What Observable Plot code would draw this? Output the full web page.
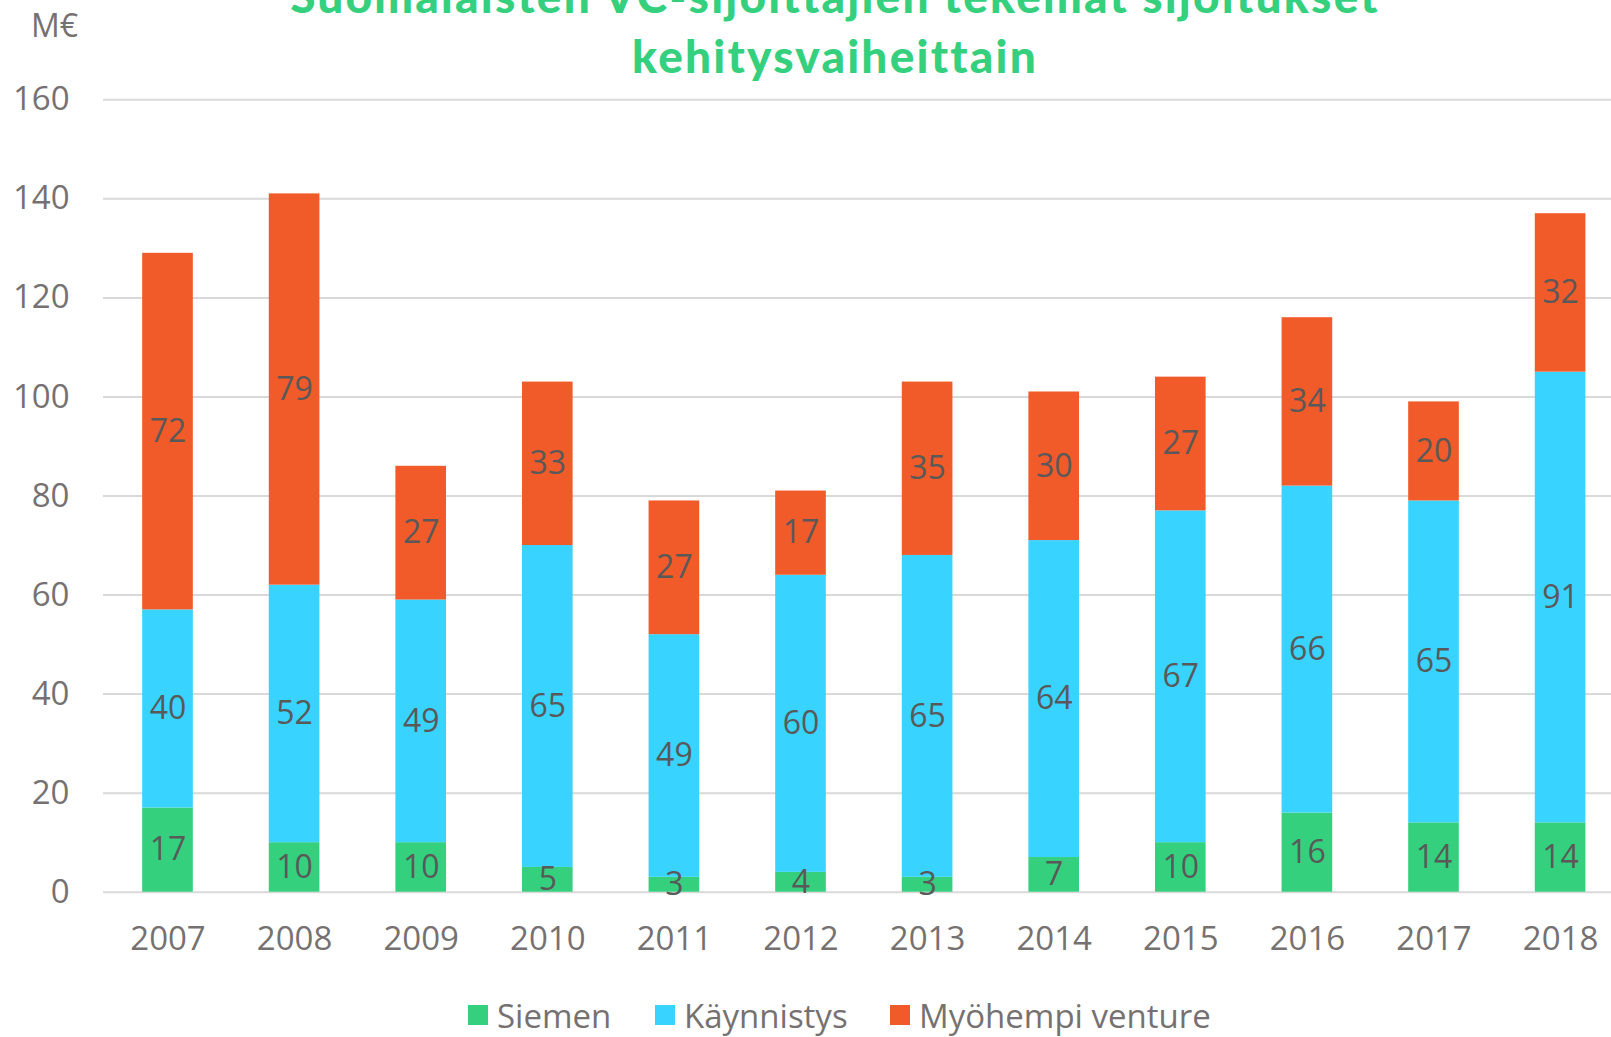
<!DOCTYPE html>
<html>
<head>
<meta charset="utf-8">
<script src="https://cdn.jsdelivr.net/npm/d3@7"></script>
<script src="https://cdn.jsdelivr.net/npm/@observablehq/plot@0.6"></script>
<style>
  html, body { margin: 0; padding: 0; background: #fff; }
  #wrap { position: relative; width: 1611px; height: 1037px; overflow: hidden; font-family: "Open Sans", sans-serif; }
  #title { position: absolute; left: 0; top: -34px; width: 1670px; text-align: center; font-family: Lato, sans-serif; font-weight: 900; font-size: 46px; letter-spacing: 2.2px; line-height: 59.5px; color: #35D07E; }
  #unit { position: absolute; left: 31px; top: 3px; font-size: 32px; color: #767171; }
  #chart { position: absolute; left: 0; top: 60px; }
  #legend { position: absolute; left: 0; top: 996px; width: 1611px; height: 38px; font-size: 33px; color: #767171; }
  .item { position: absolute; top: 0; display: flex; align-items: center; height: 38px; }
  .item span { line-height: 1; }
  .sw { width: 20px; height: 20px; margin-right: 9px; }
</style>
</head>
<body>
<div id="wrap">
  <div id="title">Suomalaisten VC-sijoittajien tekemät sijoitukset<br>kehitysvaiheittain</div>
  <div id="unit">M€</div>
  <div id="chart"></div>
  <div id="legend"></div>
</div>
<script>
const years = ["2007","2008","2009","2010","2011","2012","2013","2014","2015","2016","2017","2018"];
const siemen     = [17, 10, 10,  5,  3,  4,  3,  7, 10, 16, 14, 14];
const kaynnistys = [40, 52, 49, 65, 49, 60, 65, 64, 67, 66, 65, 91];
const myohempi   = [72, 79, 27, 33, 27, 17, 35, 30, 27, 34, 20, 32];
const seriesNames = ["Siemen", "Käynnistys", "Myöhempi venture"];
const seriesColors = ["#35D07E", "#38D3FF", "#F15A29"];
const yTicks = [0, 20, 40, 60, 80, 100, 120, 140, 160];

const seriesValues = [siemen, kaynnistys, myohempi];
const rows = [];
years.forEach((yr, i) => {
  seriesValues.forEach((arr, j) => rows.push({ year: yr, series: seriesNames[j], value: arr[i] }));
});

const chart = Plot.plot({
  width: 1611,
  height: 900,
  marginTop: 39.3,
  marginBottom: 68.3,
  marginLeft: 103,
  marginRight: 0,
  style: { fontFamily: "Open Sans, sans-serif", fontSize: "33px", color: "#767171", background: "transparent" },
  x: { domain: years, range: [104.2, 1623.4], paddingInner: 0.6, paddingOuter: 0.3, round: false, label: null },
  y: { domain: [0, 160], label: null },
  color: { domain: seriesNames, range: seriesColors },
  marks: [
    Plot.ruleY(yTicks, { stroke: "#D9D9D9", strokeWidth: 2 }),
    Plot.axisY(yTicks, { tickSize: 0, tickPadding: 34, label: null, fontSize: 33 }),
    Plot.axisX({ tickSize: 0, tickPadding: 34, label: null, fontSize: 33 }),
    Plot.barY(rows, { x: "year", y: "value", fill: "series" }),
    Plot.text(rows, Plot.stackY({ x: "year", y: "value", text: d => String(d.value), fill: "#595959", fontSize: 32 }))
  ]
});
document.getElementById("chart").appendChild(chart);

const legend = document.getElementById("legend");
const legendX = [468, 655, 890];
seriesNames.forEach((name, i) => {
  const it = document.createElement("div");
  it.className = "item";
  it.style.left = legendX[i] + "px";
  const sw = document.createElement("div");
  sw.className = "sw";
  sw.style.background = seriesColors[i];
  const tx = document.createElement("span");
  tx.textContent = name;
  it.appendChild(sw);
  it.appendChild(tx);
  legend.appendChild(it);
});
</script>
</body>
</html>
